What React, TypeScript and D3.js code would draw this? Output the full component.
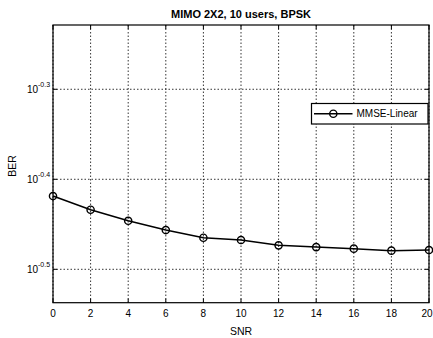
import React from "react";
import * as d3 from "d3";

const snr = [0, 2, 4, 6, 8, 10, 12, 14, 16, 18, 20];
const ber = [0.3814, 0.3683, 0.358, 0.3496, 0.3428, 0.3408, 0.3362, 0.3347, 0.3334, 0.3317, 0.3322];
const xTicks = [0, 2, 4, 6, 8, 10, 12, 14, 16, 18, 20];
const yTickExps = [-0.3, -0.4, -0.5];
const seriesName = "MMSE-Linear";
const title = "MIMO 2X2, 10 users, BPSK";

const W = 433;
const H = 338;
const m = { left: 53, right: 429, top: 25, bottom: 302.7 };

export default function App() {
  const x = d3.scaleLinear().domain([0, 20]).range([m.left, m.right]);
  const y = d3
    .scaleLog()
    .domain([Math.pow(10, -0.5371), Math.pow(10, -0.2286)])
    .range([m.bottom, m.top]);
  const line = d3
    .line<number>()
    .x((_, i) => x(snr[i]))
    .y((d) => y(d));
  const font = "Liberation Sans, Arial, sans-serif";
  const lgX = 311.5;
  const lgY = 103.5;
  const lgW = 116.5;
  const lgH = 20.5;
  return (
    <svg
      width={W}
      height={H}
      style={{ position: "absolute", left: 0, top: 0, background: "#fff" }}
      fontFamily={font}
    >
      <rect x={0} y={0} width={W} height={H} fill="#fff" />
      {/* grid */}
      {xTicks.map((t) => (
        <line
          key={"gx" + t}
          x1={x(t)}
          x2={x(t)}
          y1={m.top}
          y2={m.bottom}
          stroke="#000"
          strokeWidth={0.8}
          strokeDasharray="1.5,2"
        />
      ))}
      {yTickExps.map((e) => (
        <line
          key={"gy" + e}
          x1={m.left}
          x2={m.right}
          y1={y(Math.pow(10, e))}
          y2={y(Math.pow(10, e))}
          stroke="#000"
          strokeWidth={0.8}
          strokeDasharray="1.5,2"
        />
      ))}
      {/* ticks */}
      {xTicks.map((t, i) => {
        const last = i === xTicks.length - 1;
        return (
          <g key={"tx" + t}>
            <line x1={x(t)} x2={x(t)} y1={m.bottom} y2={m.bottom - 4} stroke="#000" />
            <line x1={x(t)} x2={x(t)} y1={m.top} y2={m.top + 4} stroke="#000" />
            <text
              x={last ? W - 0.5 : x(t)}
              y={m.bottom + 14}
              textAnchor={last ? "end" : "middle"}
              fontSize={10}
              fill="#000"
            >
              {t}
            </text>
          </g>
        );
      })}
      {yTickExps.map((e) => {
        const yy = y(Math.pow(10, e));
        return (
          <g key={"ty" + e}>
            <line x1={m.left} x2={m.left + 4} y1={yy} y2={yy} stroke="#000" />
            <line x1={m.right} x2={m.right - 4} y1={yy} y2={yy} stroke="#000" />
            <text x={m.left - 15} y={yy + 4} textAnchor="end" fontSize={10} fill="#000">
              10
            </text>
            <text x={m.left - 15} y={yy - 2} textAnchor="start" fontSize={7} fill="#000">
              {e.toFixed(1)}
            </text>
          </g>
        );
      })}
      {/* box */}
      <rect
        x={m.left}
        y={m.top}
        width={m.right - m.left}
        height={m.bottom - m.top}
        fill="none"
        stroke="#000"
        strokeWidth={1.2}
      />
      {/* series */}
      <path d={line(ber) ?? ""} fill="none" stroke="#000" strokeWidth={1.5} />
      {ber.map((v, i) => (
        <circle key={"p" + i} cx={x(snr[i])} cy={y(v)} r={3.6} fill="none" stroke="#000" strokeWidth={1.4} />
      ))}
      {/* legend */}
      <rect x={lgX} y={lgY} width={lgW} height={lgH} fill="#fff" stroke="#000" strokeWidth={1.2} />
      <line x1={314} x2={352.5} y1={lgY + lgH / 2} y2={lgY + lgH / 2} stroke="#000" strokeWidth={1.5} />
      <circle cx={333.3} cy={lgY + lgH / 2} r={3.6} fill="none" stroke="#000" strokeWidth={1.4} />
      <text x={356.5} y={lgY + lgH / 2 + 3.5} fontSize={10} fill="#000">
        {seriesName}
      </text>
      {/* labels */}
      <text x={(m.left + m.right) / 2 + 0} y={18} textAnchor="middle" fontSize={11} fontWeight="bold" fill="#000">
        {title}
      </text>
      <text x={(m.left + m.right) / 2} y={335} textAnchor="middle" fontSize={10.5} fill="#000">
        SNR
      </text>
      <text
        x={0}
        y={0}
        transform={`translate(15.5,166) rotate(-90)`}
        textAnchor="middle"
        fontSize={10.5}
        fill="#000"
      >
        BER
      </text>
    </svg>
  );
}
